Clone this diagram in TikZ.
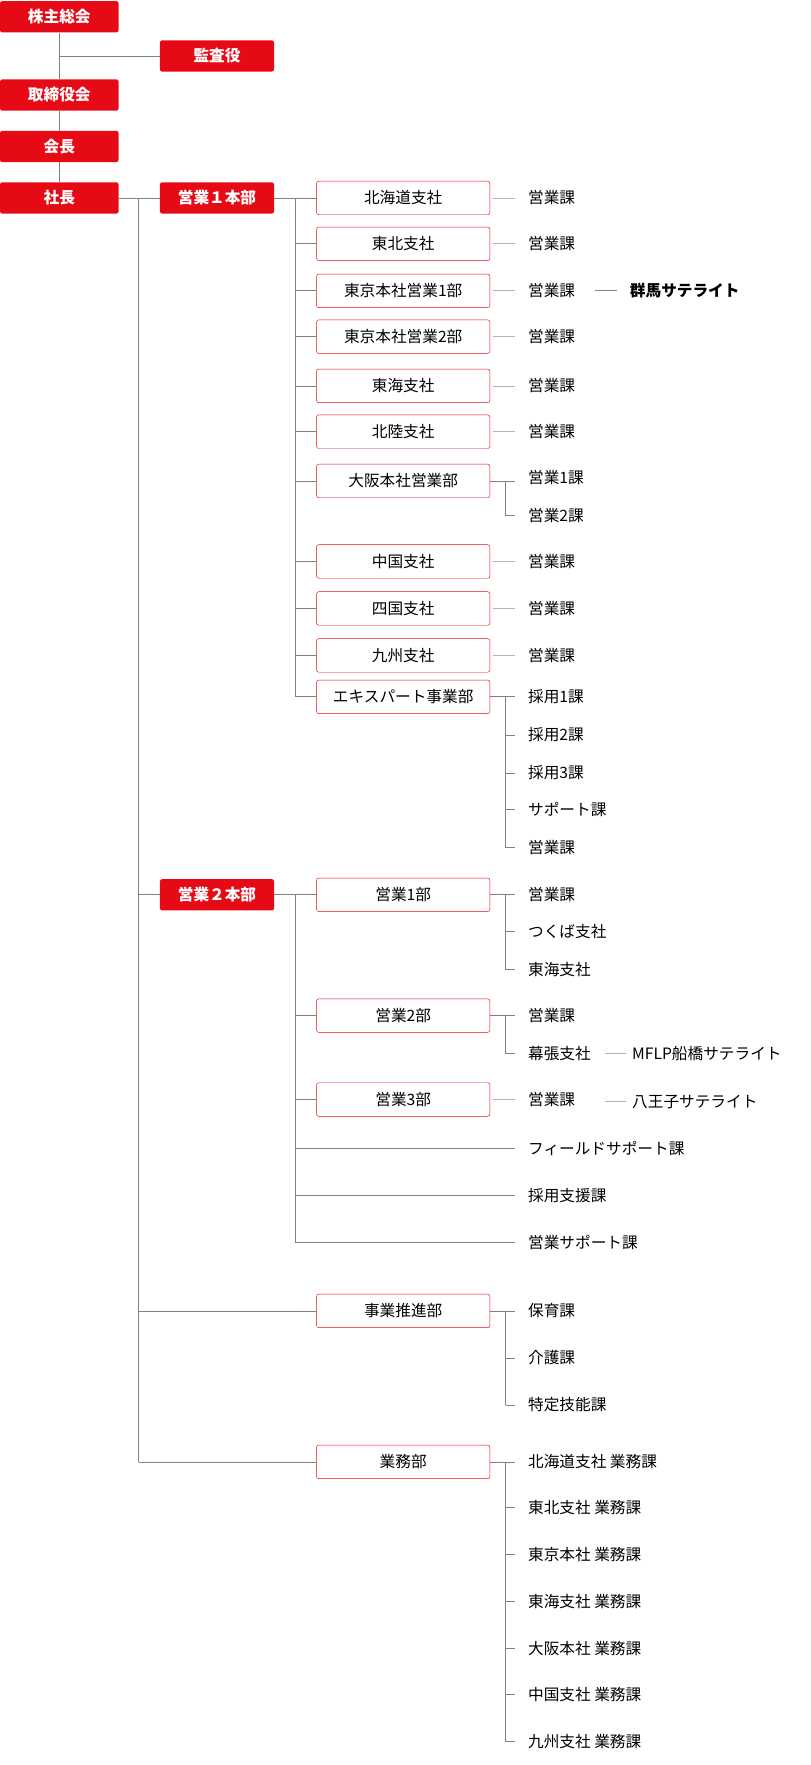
\documentclass[tikz,border=0pt]{standalone}
\usepackage{fontspec}
\newfontfamily\cjk{Noto Sans CJK JP}
\usetikzlibrary{positioning}
\definecolor{corpred}{HTML}{E60A17}
\definecolor{linegray}{HTML}{808080}
\tikzset{
  topbox/.style={fill=corpred, rounded corners=2pt, minimum width=106pt, minimum height=28pt,
    inner sep=0pt, text=white, font=\cjk\bfseries\fontsize{14}{14}\selectfont},
  subbox/.style={draw=corpred, fill=white, rounded corners=2pt, minimum width=155pt, minimum height=30pt,
    inner sep=0pt, font=\cjk\fontsize{14}{14}\selectfont},
  sect/.style={anchor=west, inner sep=0pt, font=\cjk\fontsize{14}{14}\selectfont},
  link/.style={draw=linegray, line width=0.6pt},
}
\begin{document}
\begin{tikzpicture}[x=1pt,y=-1pt]
  \useasboundingbox (0,0) rectangle (725,1578);
  % ---------- 上位機関 ----------
  \node[topbox] (soukai) at (53,15) {株主総会};
  \node[topbox, minimum width=102pt] (kansa) at (194,50) {監査役};
  \node[topbox] (torishimari) at (53,85) {取締役会};
  \node[topbox] (kaicho) at (53,131) {会長};
  \node[topbox] (shacho) at (53,177) {社長};
  \node[topbox, minimum width=102pt] (hq1) at (194,177) {営業１本部};
  \node[topbox, minimum width=102pt] (hq2) at (194,800) {営業２本部};
  \draw[link] (soukai) -- (torishimari) -- (kaicho) -- (shacho);
  \draw[link] (53,50) -- (kansa.west);

  % 幹線
  \coordinate (trunk) at (124,177);
  \draw[link] (shacho.east) -- (hq1.west);
  \draw[link] (trunk) -- (124,1307);
  \draw[link] (124,800) -- (hq2.west);

  % ---------- 営業１本部 ----------
  \draw[link] (hq1.east) -- (283,177);
  \draw[link] (264,177) -- (264,623);
  \foreach \y/\t/\n in {177/北海道支社/a1, 218/東北支社/a2, 260/東京本社営業1部/a3,
      301/東京本社営業2部/a4, 345/東海支社/a5, 386/北陸支社/a6, 430/大阪本社営業部/a7,
      502/中国支社/a8, 544/四国支社/a9, 586/九州支社/a10, 623/エキスパート事業部/a11} {
    \node[subbox] (\n) at (360.5,\y) {\t};
    \draw[link] (264,\y) -- (\n.west);
  }
  % 単独の課
  \foreach \n/\y in {a1/177, a2/218, a3/260, a4/301, a5/345, a6/386, a8/502, a9/544, a10/586} {
    \node[sect] (\n s) at (472,\y) {営業課};
    \draw[link, linegray!60] (\n.east) ++(3,0) -- ++(19,0);
  }
  \node[sect, font=\cjk\bfseries\fontsize{14}{14}\selectfont] (gunma) at (563,260) {群馬サテライト};
  \draw[link] (532,260) -- (552,260);

  % 大阪本社営業部
  \node[sect] (a7s1) at (472,427) {営業1課};
  \node[sect] (a7s2) at (472,461) {営業2課};
  \draw[link] (a7.east) -- (460,430);
  \draw[link] (452,430) |- (460,461);

  % エキスパート事業部
  \foreach \y/\t [count=\i] in {623/採用1課, 657/採用2課, 691/採用3課, 724/サポート課, 758/営業課} {
    \node[sect] (a11s\i) at (472,\y) {\t};
    \draw[link] (452,\y) -- (460,\y);
  }
  \draw[link] (a11.east) -- (452,623) -- (452,758);

  % ---------- 営業２本部 ----------
  \draw[link] (hq2.east) -- (283,800);
  \draw[link] (264,800) -- (264,1111);
  \foreach \y/\t/\n in {800/営業1部/b1, 908/営業2部/b2, 983/営業3部/b3} {
    \node[subbox] (\n) at (360.5,\y) {\t};
    \draw[link] (264,\y) -- (\n.west);
  }
  % 営業1部
  \foreach \y/\t [count=\i] in {800/営業課, 833/つくば支社, 867/東海支社} {
    \node[sect] (b1s\i) at (472,\y) {\t};
    \draw[link] (452,\y) -- (460,\y);
  }
  \draw[link] (b1.east) -- (452,800) -- (452,867);
  % 営業2部
  \node[sect] (b2s1) at (472,908) {営業課};
  \node[sect] (b2s2) at (472,942) {幕張支社};
  \draw[link] (b2.east) -- (460,908);
  \draw[link] (452,908) |- (460,942);
  \node[sect] (mflp) at (565,942) {MFLP船橋サテライト};
  \draw[link, linegray!60] (541,942) -- (560,942);
  % 営業3部
  \node[sect] (b3s1) at (472,983) {営業課};
  \draw[link, linegray!60] (b3.east) ++(3,0) -- ++(19,0);
  \node[sect] (hachioji) at (565,985) {八王子サテライト};
  \draw[link, linegray!60] (541,985) -- (560,985);
  % 直轄の課
  \foreach \y/\t [count=\i] in {1027/フィールドサポート課, 1069/採用支援課, 1111/営業サポート課} {
    \node[sect] (c\i) at (472,\y) {\t};
    \draw[link] (264,\y) -- (460,\y);
  }

  % ---------- 事業推進部 ----------
  \node[subbox] (suishin) at (360.5,1172) {事業推進部};
  \draw[link] (124,1172) -- (suishin.west);
  \foreach \y/\t [count=\i] in {1172/保育課, 1214/介護課, 1256/特定技能課} {
    \node[sect] (d\i) at (472,\y) {\t};
    \draw[link] (452,\y) -- (460,\y);
  }
  \draw[link] (suishin.east) -- (452,1172) -- (452,1256);

  % ---------- 業務部 ----------
  \node[subbox] (gyomu) at (360.5,1307) {業務部};
  \draw[link] (124,1307) -- (gyomu.west);
  \foreach \y/\t [count=\i] in {1307/北海道支社 業務課, 1348/東北支社 業務課, 1390/東京本社 業務課,
      1432/東海支社 業務課, 1474/大阪本社 業務課, 1515/中国支社 業務課, 1557/九州支社 業務課} {
    \node[sect] (e\i) at (472,\y) {\t};
    \draw[link] (452,\y) -- (460,\y);
  }
  \draw[link] (gyomu.east) -- (452,1307) -- (452,1557);
\end{tikzpicture}
\end{document}
